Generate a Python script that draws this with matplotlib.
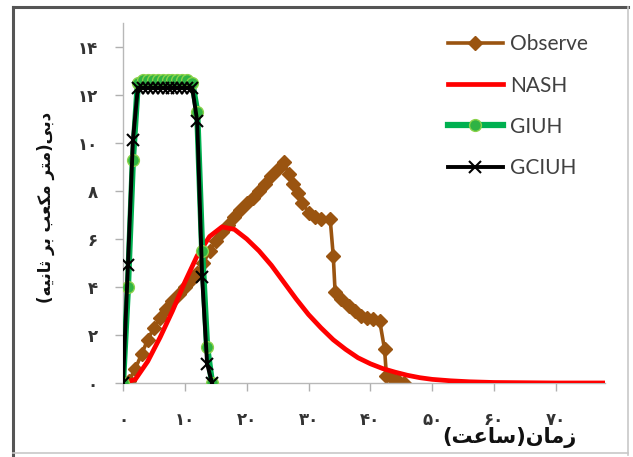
import matplotlib
matplotlib.use("Agg")
import matplotlib.pyplot as plt
import matplotlib.ticker as mtick
from matplotlib.lines import Line2D

# === داده‌ها (خوانده شده از تصویر) ===
obs_t = [1, 2, 3, 4, 5, 6, 7, 8, 9, 10, 11, 12, 13, 14, 15, 16, 17, 18, 19, 20,
         21, 22, 23, 24, 25, 26, 26.8, 27.5, 28.3, 29, 30, 31, 32, 33.5, 34, 34.3,
         35.3, 36.5, 37.5, 38.5, 39.5, 40.5, 41.5, 42.3, 42.6, 43.5, 44.5, 45.5]
obs_q = [0.1, 0.6, 1.2, 1.8, 2.3, 2.7, 3.1, 3.4, 3.7, 4.0, 4.3, 4.6, 5.0, 5.5, 5.9,
         6.3, 6.6, 6.9, 7.2, 7.5, 7.7, 8.0, 8.3, 8.6, 8.9, 9.2, 8.7, 8.3, 7.9, 7.5,
         7.1, 6.9, 6.85, 6.85, 5.3, 3.8, 3.5, 3.2, 3.0, 2.8, 2.7, 2.65, 2.6, 1.4,
         0.3, 0.2, 0.1, 0.0]

nash_t = [0, 2, 4, 6, 8, 10, 12, 14, 16, 18, 20, 22, 24, 26, 28, 30, 32, 34, 36,
          38, 40, 42, 44, 46, 48, 50, 53, 56, 60, 65, 70, 78]
nash_q = [0.0, 0.15, 0.9, 1.9, 3.0, 4.2, 5.3, 6.1, 6.5, 6.4, 6.0, 5.5, 4.9, 4.2,
          3.5, 2.85, 2.3, 1.8, 1.4, 1.05, 0.8, 0.6, 0.45, 0.32, 0.22, 0.15, 0.09,
          0.05, 0.02, 0.01, 0.0, 0.0]

iuh_t = [0, 0.8, 1.6, 2.4, 3.2, 4.0, 4.8, 5.6, 6.4, 7.2, 8.0, 8.8, 9.6, 10.4,
         11.2, 12.0, 12.8, 13.6, 14.4]
giuh_q = [0.0, 4.0, 9.3, 12.5, 12.6, 12.6, 12.6, 12.6, 12.6, 12.6, 12.6, 12.6,
          12.6, 12.6, 12.5, 11.3, 5.5, 1.5, 0.0]
gciuh_q = [0.0, 4.9, 10.1, 12.3, 12.3, 12.3, 12.3, 12.3, 12.3, 12.3, 12.3, 12.3,
           12.3, 12.3, 12.3, 10.9, 4.4, 0.8, 0.0]

x_ticks = [0, 10, 20, 30, 40, 50, 60, 70]
y_ticks = [0, 2, 4, 6, 8, 10, 12, 14]

# متن فارسی به صورت شکل‌های نمایشی و به ترتیب دیداری (matplotlib راست‌به‌چپ ندارد)
# زمان(ساعت)
x_label = "(" + "\uFE96\uFECB\uFE8E\uFEB3" + ")" + "\uFEE5\uFE8E\uFEE3\uFEAF"
# دبی(متر مکعب بر ثانیه)
y_label = ("(" + "\uFEEA\uFEF4\uFEE7\uFE8E\uFE9B" + " " + "\uFEAE\uFE91" + " "
           + "\uFE90\uFECC\uFB91\uFEE3" + " " + "\uFEAE\uFE98\uFEE3" + ")"
           + "\uFEF0\uFE91\uFEA9")

fa_digits = str.maketrans("0123456789", "۰۱۲۳۴۵۶۷۸۹")

plt.rcParams['font.family'] = ['DejaVu Sans']

fig = plt.figure(figsize=(6.33, 4.57), dpi=100)
ax = fig.add_axes([0.1943, 0.162, 0.762, 0.788])

brown = '#9a5410'
ax.plot(obs_t, obs_q, color=brown, lw=2.6, marker='D', ms=7.5,
        mfc=brown, mec=brown, label='Observe', zorder=2)
ax.plot(nash_t, nash_q, color='#ff0000', lw=3.4, label='NASH', zorder=3)
ax.plot(iuh_t, giuh_q, color='#00b050', lw=4.5, marker='o', ms=8.5,
        mfc='#2fb344', mec='#8ad24a', mew=1, label='GIUH', zorder=4)
ax.plot(iuh_t, gciuh_q, color='black', lw=2.8, marker='x', ms=8, mew=1.5,
        label='GCIUH', zorder=5)

ax.set_xlim(0, 78)
ax.set_ylim(0, 15)
ax.set_xticks(x_ticks)
ax.set_yticks(y_ticks)
ax.xaxis.set_major_formatter(mtick.FuncFormatter(lambda v, _: f'{v:.0f}'.translate(fa_digits)))
ax.yaxis.set_major_formatter(mtick.FuncFormatter(lambda v, _: f'{v:.0f}'.translate(fa_digits)))
ax.tick_params(axis='y', length=6, width=1, color='#b0b0b0', pad=12,
               labelsize=12, labelcolor='#333333')
ax.tick_params(axis='x', length=6, width=1, color='#b0b0b0', pad=14,
               labelsize=12, labelcolor='#333333')
for s in ['top', 'right']:
    ax.spines[s].set_visible(False)
for s in ['left', 'bottom']:
    ax.spines[s].set_color('#b8b8b8')
    ax.spines[s].set_linewidth(1)
for lab in ax.get_xticklabels() + ax.get_yticklabels():
    lab.set_fontweight('bold')

fig.text(0.072, 0.545, y_label, rotation=90, ha='center', va='center',
         fontsize=12, fontweight='bold', color='#111111')
fig.text(0.805, 0.042, x_label, ha='center', va='center',
         fontsize=15, fontweight='bold', color='#111111')

fig.legend(loc='upper left', bbox_to_anchor=(0.707, 0.925), frameon=False,
           prop={'family': 'Lato', 'size': 15}, labelspacing=1.02,
           handlelength=2.65, handletextpad=0.35,
           borderpad=0, borderaxespad=0, labelcolor='#404040')

# قاب دور نمودار
fig.add_artist(Line2D([0.021, 0.021], [0.004, 0.985], color='#555555', lw=2.2))
fig.add_artist(Line2D([0.021, 0.992], [0.985, 0.985], color='#555555', lw=2.2))
fig.add_artist(Line2D([0.992, 0.992], [0.004, 0.985], color='#c8c8c8', lw=1.2))
fig.add_artist(Line2D([0.021, 0.992], [0.008, 0.008], color='#c8c8c8', lw=1.2))

fig.savefig('out.png', dpi=100)
